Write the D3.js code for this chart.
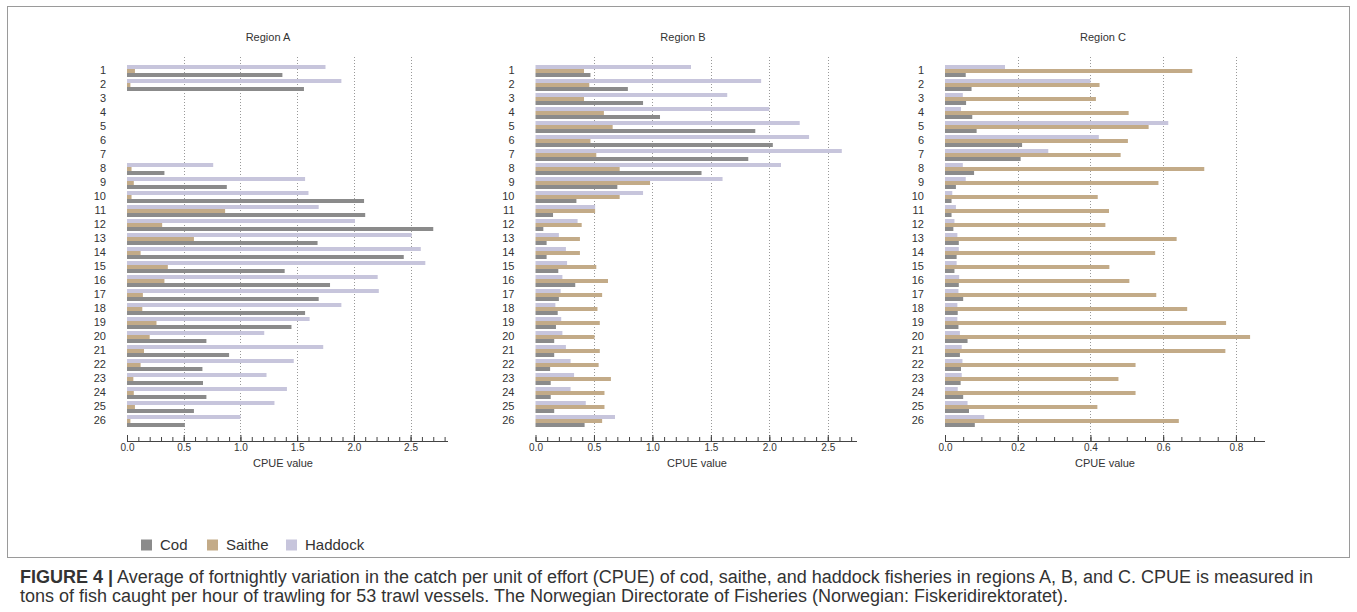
<!DOCTYPE html>
<html>
<head>
<meta charset="utf-8">
<script src="https://cdn.jsdelivr.net/npm/d3@7"></script>
<style>
  body { margin: 0; background: #fff; }
  svg text { font-family: "Liberation Sans", Arial, sans-serif; fill: #333; }
  .caption text, .legend text { font-family: "Liberation Sans Narrow", "Liberation Sans", Arial, sans-serif; }
</style>
</head>
<body>
<svg id="chart"></svg>
<script>
// categories (fortnights) and series
const periods = ['1','2','3','4','5','6','7','8','9','10','11','12','13','14','15','16','17','18','19','20','21','22','23','24','25','26'];
const species = ['Haddock', 'Saithe', 'Cod'];   // top to bottom inside a row
const legendOrder = ['Cod', 'Saithe', 'Haddock'];

// Region A (no data for fortnights 3-7)
const codA     = [1.37, 1.56, null, null, null, null, null, 0.33, 0.88, 2.09, 2.10, 2.70, 1.68, 2.44, 1.39, 1.79, 1.69, 1.57, 1.45, 0.70, 0.90, 0.665, 0.67, 0.70, 0.59, 0.51];
const saitheA  = [0.07, 0.03, null, null, null, null, null, 0.04, 0.06, 0.04, 0.865, 0.31, 0.59, 0.12, 0.36, 0.33, 0.14, 0.135, 0.26, 0.20, 0.15, 0.12, 0.056, 0.06, 0.07, 0.03];
const haddockA = [1.75, 1.89, null, null, null, null, null, 0.76, 1.57, 1.60, 1.69, 2.01, 2.51, 2.59, 2.63, 2.21, 2.22, 1.89, 1.61, 1.21, 1.73, 1.47, 1.23, 1.41, 1.30, 1.00];

// Region B
const codB     = [0.47, 0.79, 0.92, 1.065, 1.88, 2.03, 1.82, 1.42, 0.70, 0.35, 0.15, 0.067, 0.095, 0.095, 0.195, 0.34, 0.20, 0.19, 0.175, 0.16, 0.16, 0.125, 0.13, 0.13, 0.16, 0.42];
const saitheB  = [0.415, 0.46, 0.415, 0.585, 0.66, 0.47, 0.52, 0.72, 0.98, 0.72, 0.51, 0.395, 0.38, 0.38, 0.52, 0.62, 0.57, 0.53, 0.55, 0.505, 0.55, 0.54, 0.645, 0.59, 0.59, 0.57];
const haddockB = [1.33, 1.93, 1.64, 2.00, 2.26, 2.34, 2.62, 2.10, 1.60, 0.92, 0.51, 0.36, 0.20, 0.26, 0.27, 0.23, 0.215, 0.17, 0.22, 0.23, 0.26, 0.30, 0.33, 0.30, 0.43, 0.68];

// Region C
const codC     = [0.057, 0.073, 0.058, 0.075, 0.087, 0.212, 0.208, 0.08, 0.030, 0.018, 0.018, 0.023, 0.038, 0.032, 0.026, 0.038, 0.05, 0.035, 0.037, 0.062, 0.041, 0.044, 0.043, 0.05, 0.066, 0.082];
const saitheC  = [0.68, 0.425, 0.415, 0.505, 0.56, 0.503, 0.483, 0.713, 0.587, 0.42, 0.451, 0.441, 0.637, 0.578, 0.452, 0.507, 0.581, 0.666, 0.773, 0.839, 0.771, 0.524, 0.477, 0.524, 0.419, 0.643];
const haddockC = [0.165, 0.40, 0.049, 0.044, 0.614, 0.423, 0.284, 0.049, 0.057, 0.02, 0.03, 0.026, 0.034, 0.038, 0.032, 0.039, 0.037, 0.034, 0.034, 0.041, 0.046, 0.048, 0.046, 0.035, 0.062, 0.108];

// axis tick labels
const ticksA = [0, 0.5, 1.0, 1.5, 2.0, 2.5];
const ticksB = [0, 0.5, 1.0, 1.5, 2.0, 2.5];
const ticksC = [0, 0.2, 0.4, 0.6, 0.8];

const axisTitle = 'CPUE value';
const captionBold = 'FIGURE 4 |';
const captionLine1 = ' Average of fortnightly variation in the catch per unit of effort (CPUE) of cod, saithe, and haddock fisheries in regions A, B, and C. CPUE is measured in';
const captionLine2 = 'tons of fish caught per hour of trawling for 53 trawl vessels. The Norwegian Directorate of Fisheries (Norwegian: Fiskeridirektoratet).';

const colors = { Cod: '#8b8b8b', Saithe: '#c3ab88', Haddock: '#c7c5dc' };

// layout
const width = 1357;
const height = 612;
const plotTop = 63, rowsBottom = 427, axisY = 441, gridTop = 57;

const panels = [
  { title: 'Region A', titleX: 268, labelX: 283, x0: 127,   x1: 448,  max: 2.83, ticks: ticksA, minorStep: 0.1,  data: { Cod: codA, Saithe: saitheA, Haddock: haddockA } },
  { title: 'Region B', titleX: 683, labelX: 697, x0: 535.5, x1: 857,  max: 2.75, ticks: ticksB, minorStep: 0.1,  data: { Cod: codB, Saithe: saitheB, Haddock: haddockB } },
  { title: 'Region C', titleX: 1103, labelX: 1105, x0: 945, x1: 1265, max: 0.88, ticks: ticksC, minorStep: 0.05, data: { Cod: codC, Saithe: saitheC, Haddock: haddockC } }
];

const svg = d3.select('#chart')
  .attr('width', width)
  .attr('height', height);

// frame
svg.append('rect')
  .attr('x', 7.5).attr('y', 6.5)
  .attr('width', 1342).attr('height', 551)
  .attr('fill', 'none')
  .attr('stroke', '#9a9a9a')
  .attr('stroke-width', 1);

const yScale = d3.scaleBand()
  .domain(periods)
  .range([plotTop, rowsBottom]);

const ySub = d3.scaleBand()
  .domain(species)
  .range([2, yScale.bandwidth()]);

const drawPanel = (p) => {
  const g = svg.append('g');

  const xScale = d3.scaleLinear()
    .domain([0, p.max])
    .range([p.x0, p.x1]);

  // dotted grid lines at major ticks
  g.selectAll('line.grid')
    .data(p.ticks.filter((t) => t > 0))
    .enter()
    .append('line')
    .attr('class', 'grid')
    .attr('x1', (d) => Math.round(xScale(d)) + 0.5)
    .attr('x2', (d) => Math.round(xScale(d)) + 0.5)
    .attr('y1', gridTop)
    .attr('y2', axisY)
    .attr('stroke', '#999')
    .attr('stroke-width', 1)
    .attr('stroke-dasharray', '1,2');

  // bars
  const rows = g.selectAll('g.row')
    .data(periods)
    .enter()
    .append('g')
    .attr('class', 'row')
    .attr('transform', (d) => `translate(0, ${yScale(d)})`);

  rows.selectAll('rect')
    .data((d, i) => species.map((s) => ({ s: s, v: p.data[s][i] })).filter((e) => e.v != null))
    .enter()
    .append('rect')
    .attr('x', xScale(0))
    .attr('y', (d) => ySub(d.s))
    .attr('width', (d) => xScale(d.v) - xScale(0))
    .attr('height', ySub.bandwidth())
    .attr('fill', (d) => colors[d.s]);

  // row labels
  g.selectAll('text.row-label')
    .data(periods)
    .enter()
    .append('text')
    .attr('class', 'row-label')
    .attr('x', p.x0 - 21)
    .attr('y', (d) => yScale(d) + yScale.bandwidth() / 2)
    .attr('dy', '0.35em')
    .attr('text-anchor', 'end')
    .style('font-size', '11px')
    .text((d) => d);

  // minor ticks
  const minor = d3.range(0, p.max + 1e-9, p.minorStep);
  g.append('g')
    .attr('transform', `translate(0, ${axisY})`)
    .call(d3.axisBottom(xScale).tickValues(minor).tickSizeInner(-4).tickSizeOuter(0).tickFormat(''))
    .call((a) => a.select('.domain').remove())
    .selectAll('line').attr('stroke', '#444');

  // major axis
  const axis = g.append('g')
    .attr('transform', `translate(0, ${axisY})`)
    .call(d3.axisBottom(xScale).tickValues(p.ticks).tickSizeInner(-6).tickSizeOuter(0).tickPadding(3).tickFormat(d3.format('.1f')));
  axis.select('.domain').attr('stroke', '#444').attr('d', `M${p.x0},0.5H${p.x1}`);
  axis.selectAll('line').attr('stroke', '#444');
  axis.selectAll('text')
    .style('font-size', '10px')
    .style('font-family', '"Liberation Sans Narrow", "Liberation Sans", Arial, sans-serif')
    .attr('fill', '#333');

  // titles
  g.append('text')
    .attr('x', p.titleX)
    .attr('y', 37)
    .attr('dy', '0.35em')
    .attr('text-anchor', 'middle')
    .style('font-size', '11px')
    .text(p.title);

  g.append('text')
    .attr('x', p.labelX)
    .attr('y', 463)
    .attr('dy', '0.35em')
    .attr('text-anchor', 'middle')
    .style('font-size', '11px')
    .style('font-family', '"Liberation Sans Narrow", "Liberation Sans", Arial, sans-serif')
    .text(axisTitle);
};

panels.forEach(drawPanel);

// legend
const legendX = [141, 207, 286];
const legend = svg.append('g').attr('class', 'legend');
const items = legend.selectAll('g')
  .data(legendOrder)
  .enter()
  .append('g')
  .attr('transform', (d, i) => `translate(${legendX[i]}, 545)`);
items.append('rect')
  .attr('x', 0).attr('y', -5.5)
  .attr('width', 11).attr('height', 11)
  .attr('fill', (d) => colors[d]);
items.append('text')
  .attr('x', 19)
  .attr('dy', '0.35em')
  .style('font-size', '15px')
  .attr('fill', '#222')
  .text((d) => d);

// caption
const caption = svg.append('g').attr('class', 'caption');
const line1 = caption.append('text')
  .attr('x', 20)
  .attr('y', 583)
  .style('font-size', '18px')
  .attr('fill', '#222');
line1.append('tspan').style('font-weight', 'bold').text(captionBold);
line1.append('tspan').text(captionLine1);
caption.append('text')
  .attr('x', 20)
  .attr('y', 602)
  .style('font-size', '18px')
  .attr('fill', '#222')
  .text(captionLine2);
</script>
</body>
</html>
